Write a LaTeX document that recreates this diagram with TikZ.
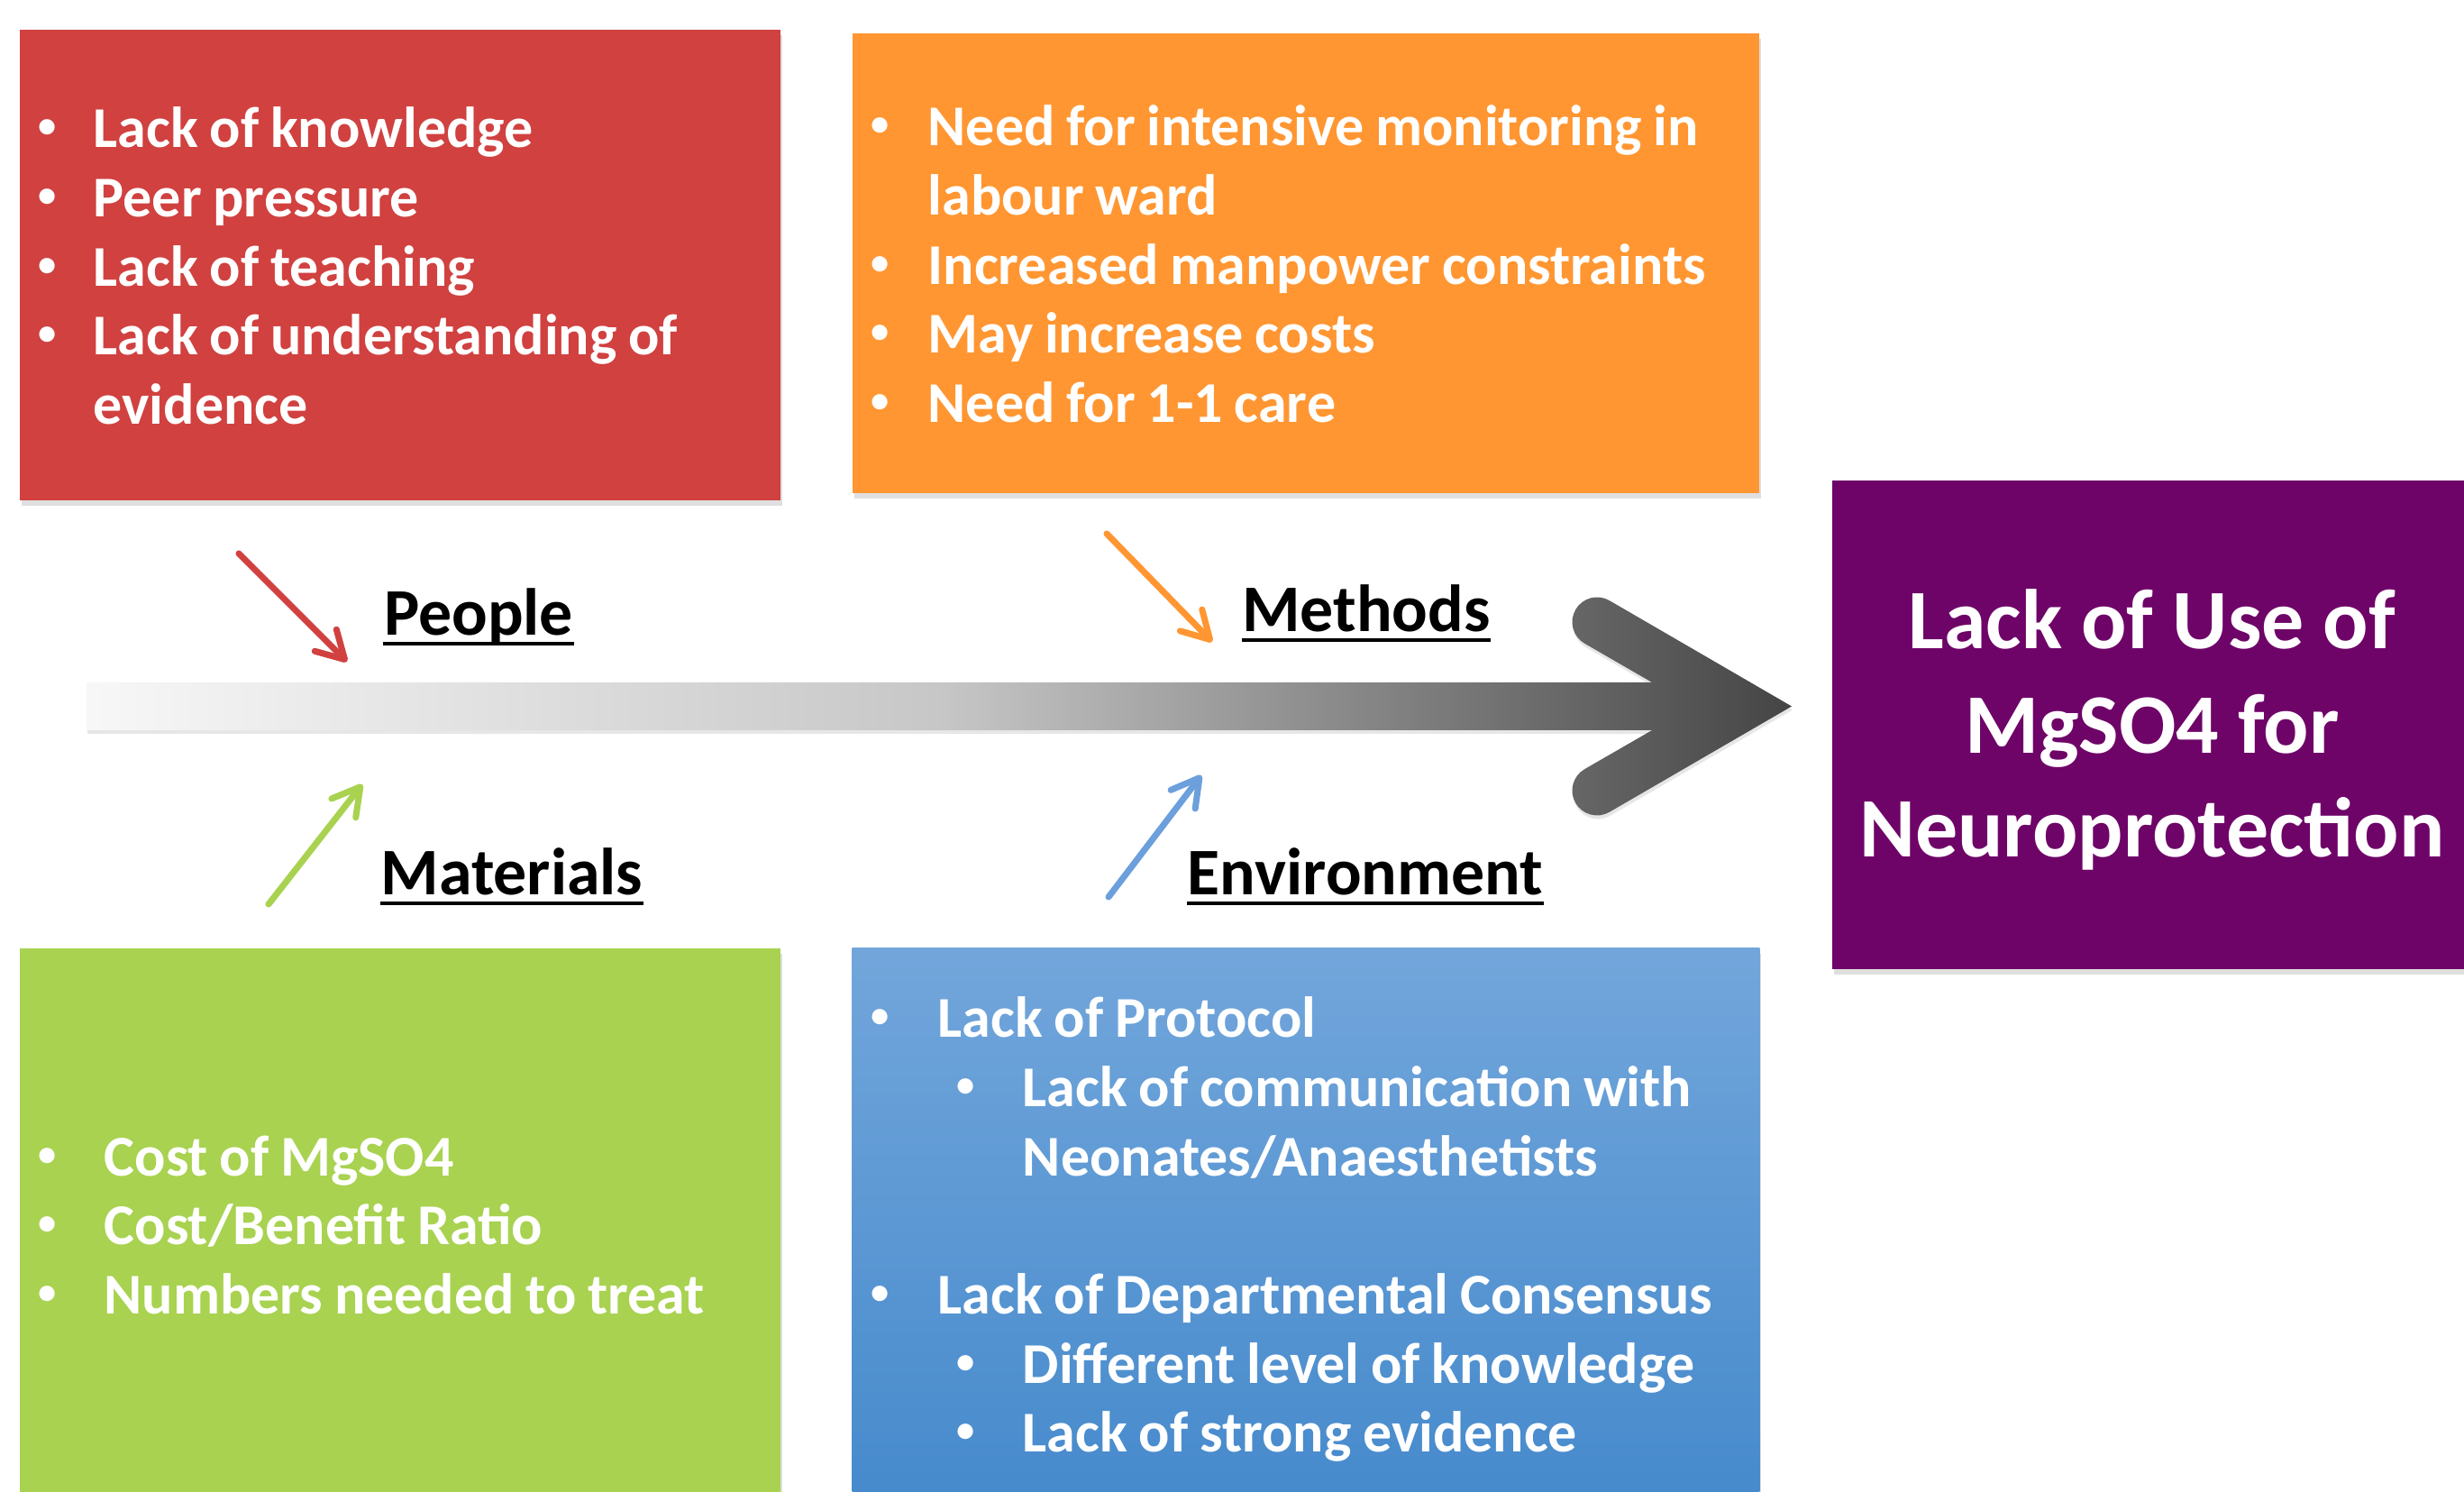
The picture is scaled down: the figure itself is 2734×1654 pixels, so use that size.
\documentclass[tikz,border=0pt]{standalone}
\usepackage{fontspec}
\setmainfont{Carlito}
\usepackage{tikz}
\usetikzlibrary{positioning,arrows.meta,shadows}
\definecolor{redbox}{RGB}{208,65,64}
\definecolor{orangebox}{RGB}{255,150,50}
\definecolor{greenbox}{RGB}{168,210,80}
\definecolor{bluetop}{RGB}{114,166,219}
\definecolor{bluebottom}{RGB}{70,138,204}
\definecolor{bluearrow}{RGB}{108,160,220}
\definecolor{purplebox}{RGB}{110,4,104}
\newcommand{\bul}{\hspace*{-0.1cm}\raisebox{0.11cm}{\fontsize{11.5}{12}\selectfont•}}
\newcommand{\lowered}[1]{\raisebox{-0.08cm}[\height][\depth]{#1}}
\newcommand{\causelist}[1]{\raisebox{-0.08cm}[\height][\depth]{\spaceskip=0.2em\relax#1}}

\begin{document}
\begin{tikzpicture}[x=0.01cm, y=0.01cm,
    causebox/.style={anchor=north west, align=left, inner xsep=0.31cm, inner ysep=0pt, text=white,
        font=\bfseries\fontsize{18.2}{21.8}\selectfont,
        drop shadow={shadow xshift=0.02cm, shadow yshift=-0.06cm, opacity=0.25}},
    bonelabel/.style={anchor=base, inner sep=0pt, font=\bfseries\fontsize{21}{25}\selectfont},
    bone/.style={line width=2pt, line cap=round, -{Straight Barb[length=0.3cm, width=0.34cm, line cap=round, line join=round]}}]

    \useasboundingbox (0,0) rectangle (2734,1654);

    % cause boxes
    \node[causebox, fill=redbox, minimum width=8.44cm, minimum height=5.22cm, text width=7.82cm] (people-box) at (21,1622) {%
        \causelist{\begin{tabular}{@{}p{0.51cm}@{}l@{}}
        \bul&Lack of knowledge\\
        \bul&Peer pressure\\
        \bul&Lack of teaching\\
        \bul&Lack of understanding of\\
        &evidence
        \end{tabular}}};
    \node[causebox, fill=orangebox, minimum width=10.06cm, minimum height=5.10cm, text width=9.44cm] (methods-box) at (945,1618) {%
        \causelist{\begin{tabular}{@{}p{0.53cm}@{}l@{}}
        \bul&Need for intensive monitoring in\\
        &labour ward\\
        \bul&Increased manpower constraints\\
        \bul&May increase costs\\
        \bul&Need for 1-1 care
        \end{tabular}}};
    \node[causebox, fill=greenbox, minimum width=8.44cm, minimum height=6.11cm, text width=7.82cm] (materials-box) at (21,603) {%
        \causelist{\begin{tabular}{@{}p{0.63cm}@{}l@{}}
        \bul&Cost of MgSO4\\
        \bul&Cost/Benefit Ratio\\
        \bul&Numbers needed to treat
        \end{tabular}}};
    \node[causebox, top color=bluetop, bottom color=bluebottom, minimum width=10.06cm, minimum height=6.11cm, text width=9.44cm] (environment-box) at (945,603) {%
        \causelist{\begin{tabular}{@{}p{0.64cm}@{}l@{}}
        \bul&Lack of Protocol\\
        &\hspace{0.31cm}\makebox[0.63cm][l]{\bul}Lack of communication with\\
        &\hspace{0.94cm}Neonates/Anaesthetists\\
        &\\
        \bul&Lack of Departmental Consensus\\
        &\hspace{0.31cm}\makebox[0.63cm][l]{\bul}Different level of knowledge\\
        &\hspace{0.31cm}\makebox[0.63cm][l]{\bul}Lack of strong evidence
        \end{tabular}}};

    % effect
    \node[anchor=north west, fill=purplebox, minimum width=7.10cm, minimum height=5.42cm, text=white,
        font=\bfseries\fontsize{26.7}{32.9}\selectfont,
        drop shadow={shadow xshift=0.02cm, shadow yshift=-0.06cm, opacity=0.25}] (outcome) at (2032,1122)
        {\lowered{\begin{tabular}{@{}c@{}}Lack of Use of\\MgSO4 for\\Neuroprotection\end{tabular}}};

    % spine
    \shade[left color=black!3, right color=black!73, middle color=black!22,
        drop shadow={shadow xshift=0.01cm, shadow yshift=-0.04cm, opacity=0.2}]
        (96,897) -- (1833.1,897) -- (1758.25,940.2) arc[start angle=240, end angle=60, radius=0.275cm]
        -- (1988,870.5) -- (1785.75,753.2) arc[start angle=300, end angle=120, radius=0.275cm]
        -- (1833.1,844) -- (96,844) -- cycle;

    % bone labels
    \node[bonelabel] (people) at (531,949) {People};
    \node[bonelabel] (methods) at (1516,953) {Methods};
    \node[bonelabel] (materials) at (568,661) {Materials};
    \node[bonelabel] (environment) at (1515,661) {Environment};
    \foreach \n in {people,methods,materials,environment}
        \draw[line width=1.2pt] ([yshift=-0.09cm]\n.base west) -- ([yshift=-0.09cm]\n.base east);

    % bones
    \coordinate (people-start) at (265,1040);
    \coordinate (people-end) at (385,920);
    \coordinate (methods-start) at (1228,1062);
    \coordinate (methods-end) at (1345,942);
    \coordinate (materials-start) at (298,651);
    \coordinate (materials-end) at (402,784);
    \coordinate (environment-start) at (1230,659);
    \coordinate (environment-end) at (1333,794);
    \foreach \n/\c in {people/redbox,methods/orangebox,materials/greenbox,environment/bluearrow}
        \draw[bone, draw=\c] (\n-start) -- (\n-end);
\end{tikzpicture}
\end{document}
